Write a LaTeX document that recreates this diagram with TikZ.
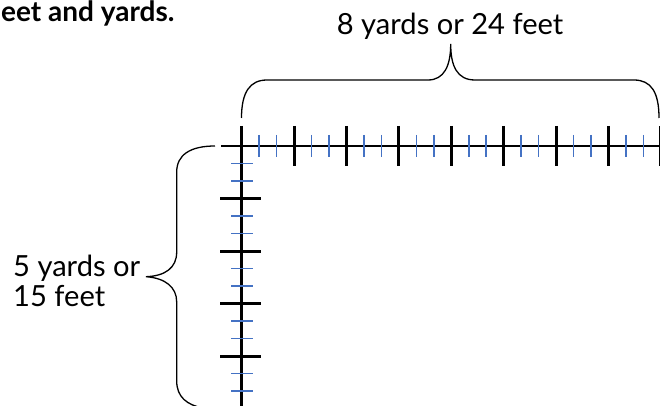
\documentclass[tikz,border=0pt]{standalone}
\usepackage{fontspec}
\setmainfont{Lato}
\definecolor{tickblue}{RGB}{68,114,196}
\tikzset{
  axisline/.style={line width=2.6pt, black},
  majortick/.style={line width=3pt, black},
  minortick/.style={line width=1.5pt, tickblue},
  bracepath/.style={line width=1.3pt, black},
  lbl/.style={inner sep=0pt, font=\fontsize{29.1}{35}\selectfont},
}
\begin{document}
\begin{tikzpicture}[x=1pt, y=-1pt]
\useasboundingbox (0,0) rectangle (660,406);
\clip (0,0) rectangle (660,406);
% title
\node[inner sep=0pt, anchor=base west, font=\fontsize{28}{32}\selectfont\bfseries] (title) at (1,21.5) {eet and yards.};
% axes
\draw[axisline] (221,146) -- (670,146);
\draw[axisline] (241.7,126) -- (241.7,420);
% horizontal ticks
\foreach \k in {1,...,8} {
  \draw[majortick] (241.7+52.4*\k,126) -- (241.7+52.4*\k,166);
}
\foreach \j in {1,2,4,5,7,8,10,11,13,14,16,17,19,20,22,23} {
  \draw[minortick] (241.7+17.467*\j,135) -- (241.7+17.467*\j,157);
}
% vertical ticks
\foreach \k in {1,...,4} {
  \draw[majortick] (220,146+52.5*\k) -- (261,146+52.5*\k);
}
\foreach \j in {1,2,4,5,7,8,10,11,13,14} {
  \draw[minortick] (231,146+17.5*\j) -- (253,146+17.5*\j);
}
% top brace
\draw[bracepath] (241.5,118) .. controls (241.5,92) and (250,80) .. (267,80)
  -- (428,80) .. controls (444,80) and (450.7,66) .. (450.7,44)
  .. controls (450.7,66) and (457,80) .. (475,80)
  -- (634,80) .. controls (651,80) and (659,92) .. (659,118);
% left brace
\draw[bracepath] (215,146) .. controls (190,146) and (176.7,155) .. (176.7,172)
  -- (176.7,252) .. controls (176.7,268) and (165,276) .. (146,276.7)
  .. controls (165,278) and (176.7,287) .. (176.7,302)
  -- (176.7,381) .. controls (176.7,397) and (187,405) .. (203,408);
% labels
\node[lbl, anchor=base west] (toplabel) at (336.7,35) {8 yards or 24 feet};
\node[lbl, anchor=base west] (leftlabel1) at (13,276) {5 yards or};
\node[lbl, anchor=base west] (leftlabel2) at (13,306.7) {15 feet};
\end{tikzpicture}
\end{document}
